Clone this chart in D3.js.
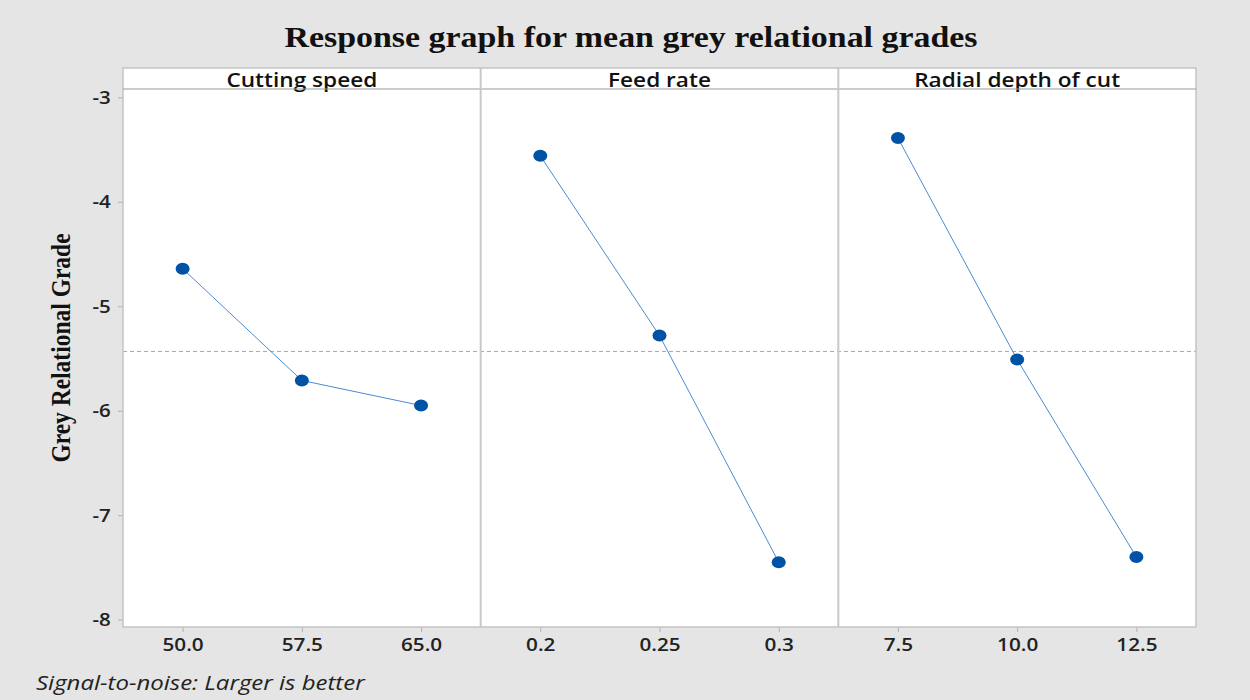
<!DOCTYPE html>
<html>
<head>
<meta charset="utf-8">
<script src="https://cdn.jsdelivr.net/npm/d3@7"></script>
<style>
  html, body { margin: 0; padding: 0; background: #e5e5e5; }
  svg { display: block; }
</style>
</head>
<body>
<svg id="chart" width="1250" height="700"></svg>
<script>
// Main-effects plot of S/N ratios for the grey relational grade
const factors = ["Cutting speed", "Feed rate", "Radial depth of cut"];
const levelLabels = [
  ["50.0", "57.5", "65.0"],
  ["0.2", "0.25", "0.3"],
  ["7.5", "10.0", "12.5"]
];
const cuttingSpeedSN = [-4.64, -5.71, -5.95];
const feedRateSN = [-3.56, -5.28, -7.45];
const radialDepthSN = [-3.39, -5.51, -7.40];
const seriesValues = [cuttingSpeedSN, feedRateSN, radialDepthSN];
const yTicks = [-3, -4, -5, -6, -7, -8];

const W = 1250, H = 700;
const plotLeft = 123, plotRight = 1196;
const stripTop = 68, stripBottom = 89, plotBottom = 627;
const sans = "'Open Sans', sans-serif";
const serif = "'Liberation Serif', 'Times New Roman', serif";
const wide = 1.14; // text is set slightly wide

const svg = d3.select("#chart");
svg.append("rect").attr("width", W).attr("height", H).attr("fill", "#e5e5e5");

const y = d3.scaleLinear().domain([-2.92, -8.07]).range([stripBottom, plotBottom]);

const panelX = d3.scaleBand().domain(d3.range(factors.length))
  .range([plotLeft, plotRight]).paddingInner(0).paddingOuter(0);
const pw = panelX.bandwidth();

// overall mean across all levels
const grandMean = d3.mean(seriesValues.flat());

function label(x, yy, sx, txt) {
  return svg.append("text")
    .attr("transform", `translate(${x},${yy}) scale(${sx},1)`)
    .text(txt);
}

// white plotting area
svg.append("rect")
  .attr("x", plotLeft).attr("y", stripTop)
  .attr("width", plotRight - plotLeft).attr("height", plotBottom - stripTop)
  .attr("fill", "#ffffff");

// y axis ticks and labels
const yAxis = d3.axisLeft(y).tickValues(yTicks).tickSize(5).tickFormat(d => String(d));
const gy = svg.append("g").attr("transform", `translate(${plotLeft},0)`).call(yAxis);
gy.select(".domain").remove();
gy.selectAll(".tick line").attr("stroke", "#b0b0b0");
gy.selectAll(".tick text")
  .attr("font-family", sans)
  .attr("font-size", 18).attr("font-weight", 600).attr("fill", "#222")
  .attr("x", -9).attr("dy", "0.34em")
  .attr("transform", `translate(-2,0) scale(${wide},1)`);

// grand mean reference line
svg.append("line")
  .attr("x1", plotLeft).attr("x2", plotRight)
  .attr("y1", y(grandMean)).attr("y2", y(grandMean))
  .attr("stroke", "#a8a8a8").attr("stroke-width", 1).attr("stroke-dasharray", "4,3");

factors.forEach((name, i) => {
  const x0 = panelX(i);
  const g = svg.append("g").attr("transform", `translate(${x0},0)`);
  const x = d3.scalePoint().domain(levelLabels[i]).range([0, pw]).padding(0.5);

  // strip header
  g.append("rect").attr("x", 0).attr("y", stripTop)
    .attr("width", pw).attr("height", stripBottom - stripTop)
    .attr("fill", "#ffffff");
  g.append("text")
    .attr("transform", `translate(${pw / 2},${stripBottom - 2}) scale(1.16,1)`)
    .attr("text-anchor", "middle")
    .attr("font-family", sans)
    .attr("font-size", 19.5).attr("font-weight", 600).attr("fill", "#111")
    .text(name);

  // x axis
  const xAxis = d3.axisBottom(x).tickSize(5);
  const gx = g.append("g").attr("transform", `translate(0,${plotBottom})`).call(xAxis);
  gx.select(".domain").remove();
  gx.selectAll(".tick line").attr("stroke", "#b0b0b0");
  gx.selectAll(".tick text")
    .attr("font-family", sans)
    .attr("font-size", 18.5).attr("font-weight", 600).attr("fill", "#222")
    .attr("y", 11)
    .attr("transform", `scale(1.12,1)`);

  const pts = levelLabels[i].map((l, k) => ({ x: x(l), y: y(seriesValues[i][k]) }));

  g.append("path")
    .datum(pts)
    .attr("d", d3.line().x(d => d.x).y(d => d.y))
    .attr("fill", "none").attr("stroke", "#4a8bd0").attr("stroke-width", 1);

  g.selectAll("ellipse.pt").data(pts).enter().append("ellipse")
    .attr("class", "pt")
    .attr("cx", d => d.x).attr("cy", d => d.y)
    .attr("rx", 7).attr("ry", 6)
    .attr("fill", "#0052a5");
});

// frame, strip separator and panel dividers
svg.append("rect")
  .attr("x", plotLeft).attr("y", stripTop)
  .attr("width", plotRight - plotLeft).attr("height", plotBottom - stripTop)
  .attr("fill", "none").attr("stroke", "#c4c4c4").attr("stroke-width", 1.5);
svg.append("line")
  .attr("x1", plotLeft).attr("x2", plotRight)
  .attr("y1", stripBottom).attr("y2", stripBottom)
  .attr("stroke", "#9a9a9a").attr("stroke-width", 1.2);
d3.range(1, factors.length).forEach(i => {
  svg.append("line")
    .attr("x1", panelX(i)).attr("x2", panelX(i))
    .attr("y1", stripTop).attr("y2", plotBottom)
    .attr("stroke", "#c8c8c8").attr("stroke-width", 2);
});

// title
label(631, 47, 1.19, "Response graph for mean grey relational grades")
  .attr("text-anchor", "middle")
  .attr("font-family", serif)
  .attr("font-size", 28.5).attr("font-weight", "bold").attr("fill", "#111");

// y axis title
svg.append("text")
  .attr("transform", `translate(70,${(stripBottom + plotBottom) / 2 - 10}) scale(1.15,1) rotate(-90)`)
  .attr("text-anchor", "middle")
  .attr("font-family", serif)
  .attr("font-size", 23.5).attr("font-weight", "bold").attr("fill", "#111")
  .text("Grey Relational Grade");

// footnote
label(36, 690, 1.2, "Signal-to-noise: Larger is better")
  .attr("font-family", sans)
  .attr("font-size", 20).attr("font-style", "italic").attr("fill", "#222");
</script>
</body>
</html>
